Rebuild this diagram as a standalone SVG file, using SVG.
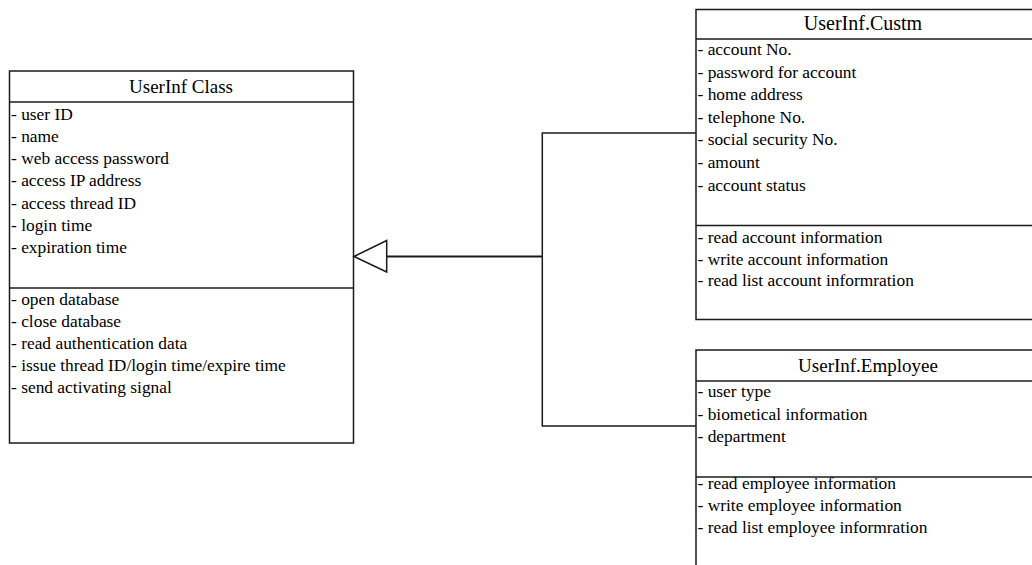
<svg xmlns="http://www.w3.org/2000/svg" width="1032" height="565" viewBox="0 0 1032 565">
  <style>
    .box { fill: #fff; stroke: #1a1a1a; stroke-width: 1.5; }
    .rule { stroke: #1a1a1a; stroke-width: 1.5; fill: none; }
    .title { font-family: "Liberation Serif", "Times New Roman", serif; font-size: 19px; fill: #000; text-anchor: middle; }
    .item { font-family: "Liberation Serif", "Times New Roman", serif; font-size: 17.4px; fill: #000; }
    .conn { stroke: #1a1a1a; stroke-width: 1.5; fill: none; }
  </style>

  <!-- Base class -->
  <g id="userinf-class">
    <rect class="box" x="9.5" y="71" width="344" height="372"/>
    <line class="rule" x1="9.5" y1="102" x2="353.5" y2="102"/>
    <line class="rule" x1="9.5" y1="288" x2="353.5" y2="288"/>
    <text class="title" x="181" y="92.5">UserInf Class</text>
    <text class="item" x="11" y="119.5">- user ID</text>
    <text class="item" x="11" y="141.8">- name</text>
    <text class="item" x="11" y="164.1">- web access password</text>
    <text class="item" x="11" y="186.4">- access IP address</text>
    <text class="item" x="11" y="208.7">- access thread ID</text>
    <text class="item" x="11" y="231">- login time</text>
    <text class="item" x="11" y="253.3">- expiration time</text>
    <text class="item" x="11" y="305">- open database</text>
    <text class="item" x="11" y="327.1">- close database</text>
    <text class="item" x="11" y="349.2">- read authentication data</text>
    <text class="item" x="11" y="371.3">- issue thread ID/login time/expire time</text>
    <text class="item" x="11" y="393.4">- send activating signal</text>
  </g>

  <!-- Customer subclass (runs off the right edge) -->
  <g id="userinf-custm">
    <path class="rule" d="M1040 9.5 H696 V319.5 H1040"/>
    <line class="rule" x1="696" y1="39" x2="1040" y2="39"/>
    <line class="rule" x1="696" y1="225.5" x2="1040" y2="225.5"/>
    <text class="title" x="863" y="29.5" style="font-size:20px">UserInf.Custm</text>
    <text class="item" x="697.5" y="55">- account No.</text>
    <text class="item" x="697.5" y="77.6">- password for account</text>
    <text class="item" x="697.5" y="100.2">- home address</text>
    <text class="item" x="697.5" y="122.8">- telephone No.</text>
    <text class="item" x="697.5" y="145.4">- social security No.</text>
    <text class="item" x="697.5" y="168">- amount</text>
    <text class="item" x="697.5" y="190.6">- account status</text>
    <text class="item" x="697.5" y="242.7">- read account information</text>
    <text class="item" x="697.5" y="264.5">- write account information</text>
    <text class="item" x="697.5" y="286.3">- read list account informration</text>
  </g>

  <!-- Employee subclass (runs off the right and bottom edges) -->
  <g id="userinf-employee">
    <path class="rule" d="M1040 350 H696 V570"/>
    <line class="rule" x1="696" y1="381" x2="1040" y2="381"/>
    <line class="rule" x1="696" y1="477" x2="1040" y2="477"/>
    <text class="title" x="868" y="371.7">UserInf.Employee</text>
    <text class="item" x="697.5" y="397.3">- user type</text>
    <text class="item" x="697.5" y="419.5">- biometical information</text>
    <text class="item" x="697.5" y="441.7">- department</text>
    <text class="item" x="697.5" y="488.5">- read employee information</text>
    <text class="item" x="697.5" y="510.8">- write employee information</text>
    <text class="item" x="697.5" y="533.1">- read list employee informration</text>
  </g>

  <!-- Generalization connectors -->
  <g id="connectors">
    <path class="conn" d="M696 133 H542.3 V426 H696"/>
    <line class="conn" x1="387" y1="256.5" x2="542.3" y2="256.5" style="stroke-width:2"/>
    <polygon class="conn" points="354,256.5 386.7,240.5 386.7,272"/>
  </g>
</svg>
